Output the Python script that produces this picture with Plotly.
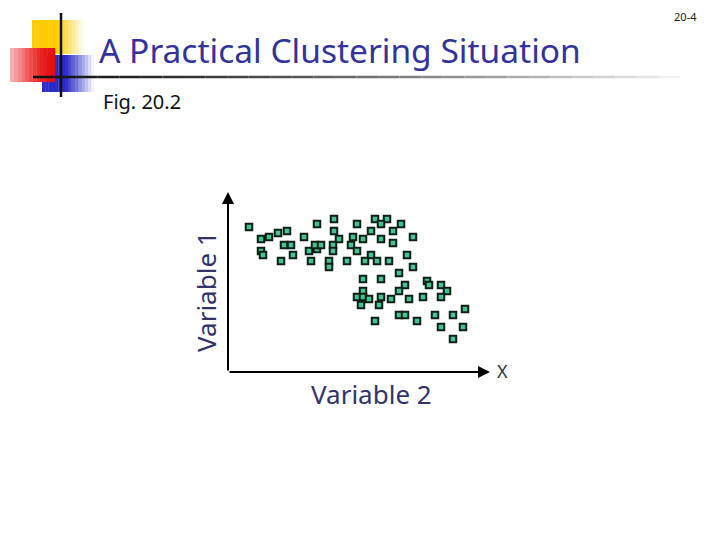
import plotly.graph_objects as go

# Data (arbitrary units: Variable 2 horizontally, Variable 1 vertically)
variable2 = [21, 33, 41, 50, 59, 33, 35, 56, 63, 65, 53, 76, 89, 81, 89, 87, 93, 83,
             106, 106, 111, 105, 105, 101, 101, 129, 125, 123, 129, 119, 147, 159, 153,
             143, 135, 153, 143, 137, 149, 173, 165, 165, 161, 179, 185, 185, 171,
             135, 153, 135, 129, 135, 141, 153, 133, 151, 177, 171, 163, 181, 195, 199,
             201, 213, 219, 213, 147, 171, 177, 189, 207, 225, 237, 213, 235, 225]
variable1 = [145, 133, 135, 139, 141, 121, 117, 127, 127, 117, 111, 135, 148, 121, 123, 127, 127, 111,
             153, 141, 133, 127, 121, 111, 105, 148, 135, 127, 121, 111, 153, 153, 148,
             141, 133, 133, 117, 111, 111, 148, 141, 129, 111, 117, 135, 105, 99,
             93, 93, 81, 75, 75, 73, 75, 67, 67, 87, 81, 73, 73, 75, 91,
             87, 87, 81, 75, 51, 57, 57, 51, 57, 57, 63, 45, 45, 33]

title_text = "A Practical Clustering Situation"
subtitle_text = "Fig. 20.2"
page_text = "20-4"
x_label = "Variable 2"
y_label = "Variable 1"
x_end_label = "X"

# The page body has an 8px margin; compensate so screen positions match.
OFF = 8
W, H = 720 - OFF, 540 - OFF
XMAX, YMAX = 262, 180


def px(x):
    return (x - OFF) / W


def py(y):
    return 1 - (y - OFF) / H


fig = go.Figure()
fig.add_trace(go.Scatter(
    x=variable2, y=variable1, mode="markers",
    marker=dict(symbol="square", size=6.5, color="#45c493",
                line=dict(color="#0f1f16", width=2)),
    hoverinfo="skip", showlegend=False))

shapes = []


def grad_rect(x0, y0, x1, y1, color, n, a_start, a_end, fade_from=0.0):
    w = (x1 - x0) / n
    for i in range(n):
        t = i / (n - 1)
        if t < fade_from:
            a = a_start
        else:
            tt = (t - fade_from) / (1 - fade_from)
            a = a_start + (a_end - a_start) * tt
        shapes.append(dict(type="rect", xref="paper", yref="paper",
                           x0=px(x0 + i * w), x1=px(x0 + (i + 1) * w + 0.3),
                           y0=py(y1), y1=py(y0), line=dict(width=0),
                           fillcolor=color, opacity=a, layer="below"))


# logo decoration
grad_rect(32, 20, 84, 54, "#ffcc00", 16, 1.0, 0.05, 0.45)
grad_rect(42, 55, 94, 92, "#2b2bc8", 16, 1.0, 0.05, 0.45)
red_cols = ["#f7b0b0", "#f59a9a", "#f48888", "#f27474", "#f06060", "#ee4e4e", "#ec3c3c",
            "#ea2e2e", "#e82222", "#e61a1a", "#e41414", "#e21010"]
rw = (55 - 10) / len(red_cols)
for i, c in enumerate(red_cols):
    shapes.append(dict(type="rect", xref="paper", yref="paper",
                       x0=px(10 + i * rw), x1=px(10 + (i + 1) * rw + 0.3),
                       y0=py(82), y1=py(48), line=dict(width=0),
                       fillcolor=c, layer="below"))
shapes.append(dict(type="line", xref="paper", yref="paper", x0=px(61), x1=px(61),
                   y0=py(13), y1=py(97), line=dict(color="#111111", width=2.5)))
n = 30
for i in range(n):
    xa = 33 + (680 - 33) * i / n
    xb = 33 + (680 - 33) * (i + 1) / n
    g = int(20 + (240 - 20) * (i / (n - 1)) ** 1.3)
    shapes.append(dict(type="line", xref="paper", yref="paper", x0=px(xa), x1=px(xb),
                       y0=py(77), y1=py(77),
                       line=dict(color=f"rgb({g},{g},{g})", width=2.5)))

annotations = [
    dict(text=title_text, x=px(97), y=py(50), xref="paper", yref="paper",
         xanchor="left", yanchor="middle", showarrow=False,
         font=dict(family="Noto Sans", size=33.5, color="#333399")),
    dict(text=subtitle_text, x=px(101), y=py(102), xref="paper", yref="paper",
         xanchor="left", yanchor="middle", showarrow=False,
         font=dict(family="Noto Sans", size=20, color="#111111")),
    dict(text=page_text, x=px(699), y=py(17), xref="paper", yref="paper",
         xanchor="right", yanchor="middle", showarrow=False,
         font=dict(family="Noto Sans", size=11, color="#222222")),
    dict(text=x_label, x=px(371), y=py(394), xref="paper", yref="paper",
         xanchor="center", yanchor="middle", showarrow=False,
         font=dict(family="Noto Sans", size=26, color="#33336a")),
    dict(text=y_label, x=px(206), y=py(292), xref="paper", yref="paper",
         xanchor="center", yanchor="middle", showarrow=False, textangle=-90,
         font=dict(family="Noto Sans", size=26, color="#33336a")),
    dict(text=x_end_label, x=px(502), y=py(371), xref="paper", yref="paper",
         xanchor="center", yanchor="middle", showarrow=False,
         font=dict(family="Noto Sans", size=18, color="#333333")),
    dict(x=XMAX, y=0, ax=0, ay=0, xref="x", yref="y", axref="x", ayref="y",
         text="", showarrow=True, arrowhead=2, arrowsize=1.2, arrowwidth=2,
         arrowcolor="#000000"),
    dict(x=0, y=YMAX, ax=0, ay=0, xref="x", yref="y", axref="x", ayref="y",
         text="", showarrow=True, arrowhead=2, arrowsize=1.2, arrowwidth=2,
         arrowcolor="#000000"),
]

fig.update_layout(
    width=W, height=H, margin=dict(l=0, r=0, t=0, b=0),
    paper_bgcolor="white", plot_bgcolor="white",
    xaxis=dict(domain=[px(228), px(490)], range=[0, XMAX], visible=False, fixedrange=True),
    yaxis=dict(domain=[py(372), py(192)], range=[0, YMAX], visible=False, fixedrange=True),
    shapes=shapes, annotations=annotations, showlegend=False,
)

fig.write_html("out.html")
